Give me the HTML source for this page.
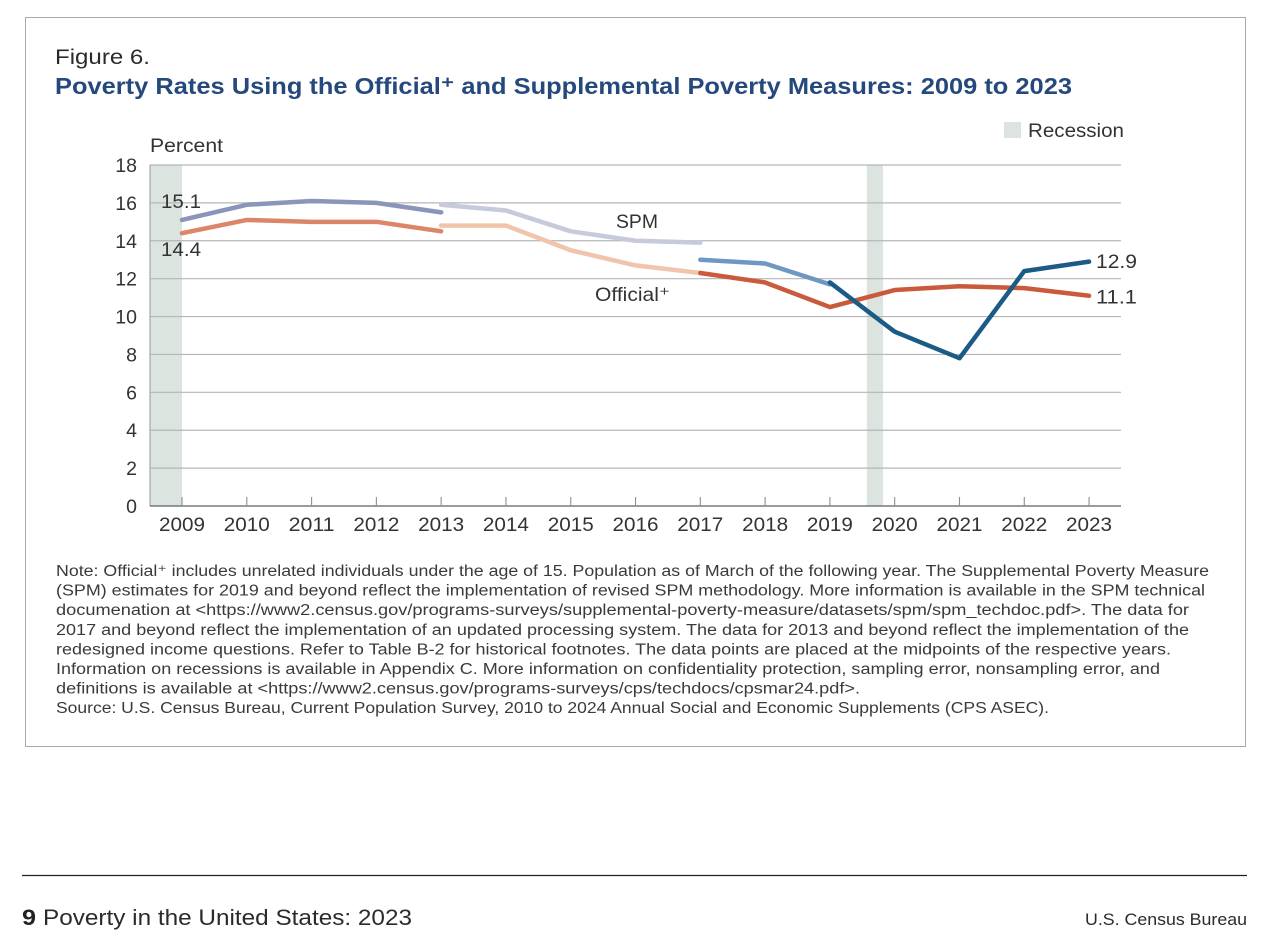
<!DOCTYPE html>
<html lang="en">
<head>
<meta charset="utf-8">
<title>Poverty Rates Using the Official and Supplemental Poverty Measures: 2009 to 2023</title>
<style>
html,body{margin:0;padding:0;background:#fff;width:1271px;height:947px;overflow:hidden}
svg{display:block}
text{font-family:"Liberation Sans",sans-serif;fill:#2b2b2b}
.note{font-size:15.4px;fill:#3a3a3a}
.tick{font-size:19.5px;fill:#333}
.lab{font-size:19.5px;fill:#333}
</style>
</head>
<body>
<svg id="page" width="1271" height="947" viewBox="0 0 1271 947" xmlns="http://www.w3.org/2000/svg">
  <rect x="25.5" y="17.5" width="1220" height="729" fill="#fff" stroke="#a9abab" stroke-width="1"/>
  <text x="55" y="64" font-size="21.5" textLength="95" lengthAdjust="spacingAndGlyphs">Figure 6.</text>
  <text x="55" y="94" font-size="23.5" font-weight="700" style="fill:#25497c" textLength="1017" lengthAdjust="spacingAndGlyphs">Poverty Rates Using the Official⁺ and Supplemental Poverty Measures: 2009 to 2023</text>

  <rect x="1004" y="122" width="17" height="16" fill="#dbe4df"/>
  <text class="lab" x="1028" y="137" textLength="96" lengthAdjust="spacingAndGlyphs">Recession</text>
  <text class="lab" x="150" y="152" textLength="73" lengthAdjust="spacingAndGlyphs">Percent</text>

  <g id="chart"></g>

  <g>
    <text class="note" x="56" y="576" textLength="1153" lengthAdjust="spacingAndGlyphs">Note: Official⁺ includes unrelated individuals under the age of 15. Population as of March of the following year. The Supplemental Poverty Measure</text>
    <text class="note" x="56" y="595.6" textLength="1149" lengthAdjust="spacingAndGlyphs">(SPM) estimates for 2019 and beyond reflect the implementation of revised SPM methodology. More information is available in the SPM technical</text>
    <text class="note" x="56" y="615.2" textLength="1133" lengthAdjust="spacingAndGlyphs">documenation at &lt;https://www2.census.gov/programs-surveys/supplemental-poverty-measure/datasets/spm/spm_techdoc.pdf&gt;. The data for</text>
    <text class="note" x="56" y="634.8" textLength="1133" lengthAdjust="spacingAndGlyphs">2017 and beyond reflect the implementation of an updated processing system. The data for 2013 and beyond reflect the implementation of the</text>
    <text class="note" x="56" y="654.4" textLength="1115" lengthAdjust="spacingAndGlyphs">redesigned income questions. Refer to Table B-2 for historical footnotes. The data points are placed at the midpoints of the respective years.</text>
    <text class="note" x="56" y="674" textLength="1104" lengthAdjust="spacingAndGlyphs">Information on recessions is available in Appendix C. More information on confidentiality protection, sampling error, nonsampling error, and</text>
    <text class="note" x="56" y="693.6" textLength="804" lengthAdjust="spacingAndGlyphs">definitions is available at &lt;https://www2.census.gov/programs-surveys/cps/techdocs/cpsmar24.pdf&gt;.</text>
    <text class="note" x="56" y="713.2" textLength="993" lengthAdjust="spacingAndGlyphs">Source: U.S. Census Bureau, Current Population Survey, 2010 to 2024 Annual Social and Economic Supplements (CPS ASEC).</text>
  </g>

  <line x1="22" y1="875.5" x2="1247" y2="875.5" stroke="#222" stroke-width="1.2"/>
  <text x="22" y="925" font-size="22.5" font-weight="700" style="fill:#222" textLength="14" lengthAdjust="spacingAndGlyphs">9</text>
  <text x="43" y="925" font-size="22.5" style="fill:#2b2b2b" textLength="369" lengthAdjust="spacingAndGlyphs">Poverty in the United States: 2023</text>
  <text x="1085" y="925" font-size="16.5" style="fill:#2b2b2b" textLength="162" lengthAdjust="spacingAndGlyphs">U.S. Census Bureau</text>
</svg>

<script>
const years = [2009,2010,2011,2012,2013,2014,2015,2016,2017,2018,2019,2020,2021,2022,2023];
const yTicks = [0,2,4,6,8,10,12,14,16,18];
const recessionStart = [2008.5, 2019.57];
const recessionEnd = [2009, 2019.82];
const spmOriginal = [15.1,15.9,16.1,16.0,15.5,null,null,null,null,null,null,null,null,null,null];
const spmRedesigned = [null,null,null,null,15.9,15.6,14.5,14.0,13.9,null,null,null,null,null,null];
const spmUpdated = [null,null,null,null,null,null,null,null,13.0,12.8,11.7,null,null,null,null];
const spmRevised = [null,null,null,null,null,null,null,null,null,null,11.8,9.2,7.8,12.4,12.9];
const officialOriginal = [14.4,15.1,15.0,15.0,14.5,null,null,null,null,null,null,null,null,null,null];
const officialRedesigned = [null,null,null,null,14.8,14.8,13.5,12.7,12.3,null,null,null,null,null,null];
const officialUpdated = [null,null,null,null,null,null,null,null,12.3,11.8,10.5,11.4,11.6,11.5,11.1];

const NS = 'http://www.w3.org/2000/svg';
const chart = document.getElementById('chart');
const plotLeft = 150, plotRight = 1121, plotTop = 165, plotBottom = 506;
function xScale(year){ return 182 + (year - 2009) * 64.79; }
function yScale(v){ return plotBottom - v * (plotBottom - plotTop) / 18; }
function make(tag, attrs){
  const el = document.createElementNS(NS, tag);
  for (const k in attrs) el.setAttribute(k, attrs[k]);
  chart.appendChild(el);
  return el;
}

recessionStart.forEach(function(s, i){
  const band = make('rect', {x: xScale(s) < plotLeft ? plotLeft : xScale(s), y: plotTop, height: plotBottom - plotTop, fill: '#dbe4df',
    width: xScale(recessionEnd[i]) - (xScale(s) < plotLeft ? plotLeft : xScale(s))});
  
  
});

yTicks.forEach(function(t){
  if (t > 0) {
    const grid = make('line', {x1: plotLeft, x2: plotRight, y1: yScale(t), y2: yScale(t), stroke: '#b4b7b6', 'stroke-width': 1.2});
    
    
  }
  const lab = make('text', {x: 137, y: yScale(t) + 7, 'text-anchor': 'end', class: 'tick'});
  
  
  lab.textContent = t;
});

const yAxis = make('line', {x1: plotLeft, x2: plotLeft, y1: plotTop, y2: plotBottom, stroke: '#a6a9a8', 'stroke-width': 1.2});


const xAxis = make('line', {x1: plotLeft, x2: plotRight, y1: plotBottom, y2: plotBottom, stroke: '#5d6060', 'stroke-width': 1.2});



years.forEach(function(yr){
  const tick = make('line', {x1: xScale(yr), x2: xScale(yr), y1: plotBottom - 9, y2: plotBottom, stroke: '#8b8e8d', 'stroke-width': 1.1});
  
  
  const lab = make('text', {x: xScale(yr), y: 531, 'text-anchor': 'middle', class: 'tick', textLength: 46, lengthAdjust: 'spacingAndGlyphs'});
  
  
  lab.textContent = yr;
});

function drawSeries(values, color, name){
  const pts = [];
  values.forEach(function(v, i){
    if (v !== null) pts.push(xScale(years[i]).toFixed(2) + ',' + yScale(v).toFixed(2));
  });
  const line = make('polyline', {points: pts.join(' '), fill: 'none', stroke: color, 'stroke-width': 4.5, 'stroke-linecap': 'round', 'stroke-linejoin': 'round'});
  
  
}
drawSeries(spmOriginal, '#8a95b9', 'spm-line-2009-2013');
drawSeries(officialOriginal, '#dd8569', 'official-line-2009-2013');
drawSeries(spmRedesigned, '#c6cadb', 'spm-line-2013-2017');
drawSeries(officialRedesigned, '#f0c5ab', 'official-line-2013-2017');
drawSeries(officialUpdated, '#c95b3c', 'official-line-2017-2023');
drawSeries(spmUpdated, '#6f97c3', 'spm-line-2017-2019');
drawSeries(spmRevised, '#1b5b86', 'spm-line-2019-2023');

function valueLabel(text, x, y, width){
  const el = make('text', {x: x, y: y, class: 'lab', textLength: width, lengthAdjust: 'spacingAndGlyphs'});
  el.textContent = text;
  return el;
}
const labSpmFirst = valueLabel(spmOriginal[0].toFixed(1), 161, yScale(spmOriginal[0]) - 12, 40);


const labOffFirst = valueLabel(officialOriginal[0].toFixed(1), 161, yScale(officialOriginal[0]) + 23, 40);


const labSpmLast = valueLabel(spmRevised[14].toFixed(1), 1096, yScale(spmRevised[14]) + 6.5, 41);


const labOffLast = valueLabel(officialUpdated[14].toFixed(1), 1096, yScale(officialUpdated[14]) + 8, 41);


const labSpm = valueLabel('SPM', 616, 228, 42);


const labOff = valueLabel('Official⁺', 595, 301, 75);


</script>
</body>
</html>
